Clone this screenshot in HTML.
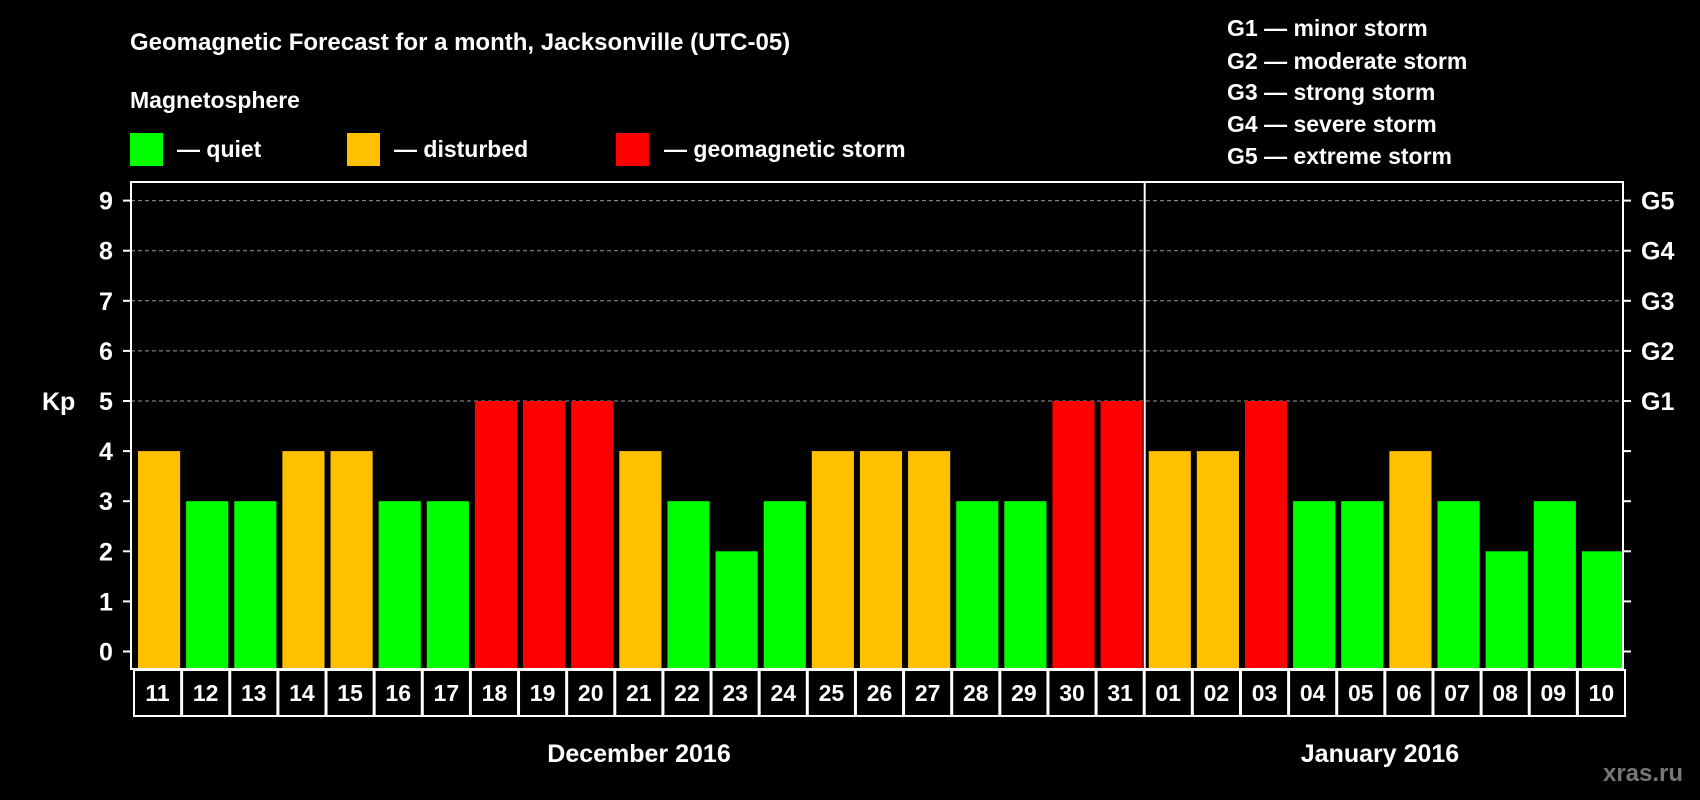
<!DOCTYPE html>
<html><head><meta charset="utf-8">
<style>
html,body{margin:0;padding:0;background:#000;}
svg{display:block;font-family:"Liberation Sans",Arial,sans-serif;font-weight:bold;}
</style></head>
<body>
<svg id="chart" width="1700" height="800" viewBox="0 0 1700 800">
<rect width="1700" height="800" fill="#000"/>
<text x="130" y="50" fill="#fff" font-size="24">Geomagnetic Forecast for a month, Jacksonville (UTC-05)</text>
<text x="130" y="108" fill="#fff" font-size="23">Magnetosphere</text>
<g>
<rect x="130" y="133" width="33" height="33" fill="#00ff00"/>
<text x="177" y="157" fill="#fff" font-size="23">— quiet</text></g>
<g>
<rect x="347" y="133" width="33" height="33" fill="#ffc000"/>
<text x="394" y="157" fill="#fff" font-size="23">— disturbed</text></g>
<g>
<rect x="616" y="133" width="33" height="33" fill="#ff0000"/>
<text x="664" y="157" fill="#fff" font-size="23">— geomagnetic storm</text></g>
<g fill="#fff" font-size="23">
<text x="1227" y="36">G1 — minor storm</text>
<text x="1227" y="69">G2 — moderate storm</text>
<text x="1227" y="100">G3 — strong storm</text>
<text x="1227" y="132">G4 — severe storm</text>
<text x="1227" y="164">G5 — extreme storm</text>
</g>
<text x="42" y="410" fill="#fff" font-size="25">Kp</text>
<text x="639" y="762" fill="#fff" font-size="25" text-anchor="middle">December 2016</text>
<text x="1380" y="762" fill="#fff" font-size="25" text-anchor="middle">January 2016</text>
<text x="1643" y="781" fill="#777" font-size="24" text-anchor="middle">xras.ru</text>
<g id="grid"></g><g id="bars"></g><g id="axes"></g>
</svg>
<script>
const days = ["11","12","13","14","15","16","17","18","19","20","21","22","23","24","25","26","27","28","29","30","31","01","02","03","04","05","06","07","08","09","10"];
const kpValues = [4,3,3,4,4,3,3,5,5,5,4,3,2,3,4,4,4,3,3,5,5,4,4,5,3,3,4,3,2,3,2];
const yTicks = [0,1,2,3,4,5,6,7,8,9];
const gLabels = ["","","","","","G1","G2","G3","G4","G5"];
const NS="http://www.w3.org/2000/svg";
const L=131,R=1623,T=182,B=669;
const slot=(R-L)/days.length;
function y(v){return 651.5-50.1*v;}
function x(i){return L+slot*i;}
function mk(tag,attrs,parent){const e=document.createElementNS(NS,tag);for(const k in attrs)e.setAttribute(k,attrs[k]);parent.appendChild(e);return e;}
const grid=document.getElementById('grid'),bars=document.getElementById('bars'),axes=document.getElementById('axes');
yTicks.forEach((t,i)=>{
  if(t>=5){const g=mk('line',{x1:L,x2:R,y1:y(t),y2:y(t),stroke:'#999','stroke-dasharray':'4 3','stroke-width':1},grid);
    
    }
  const tl=mk('line',{x1:L-8,x2:L,y1:y(t),y2:y(t),stroke:'#fff','stroke-width':2},axes);
  
  
  const tr=mk('line',{x1:R,x2:R+8,y1:y(t),y2:y(t),stroke:'#fff','stroke-width':2},axes);
  
  
  const lab=mk('text',{x:106,y:y(t)+9,fill:'#fff','font-size':25,'text-anchor':'middle'},axes);
  lab.textContent=t;
  
  
  if(gLabels[i]){const gl=mk('text',{x:1641,y:y(t)+9,fill:'#fff','font-size':25},axes);
    gl.textContent=gLabels[i];
    
    }
});
kpValues.forEach((v,i)=>{
  const c=v>=5?'#ff0000':(v>=4?'#ffc000':'#00ff00');
  const b=mk('rect',{x:x(i)+7,y:y(v),width:slot-6,height:B-1-y(v),fill:c},bars);
  
  
  const bx=mk('rect',{x:x(i)+3,y:B+1,width:slot-1,height:46,fill:'none',stroke:'#fff','stroke-width':2},axes);
  
  
  const t=mk('text',{x:x(i)+3+(slot-1)/2,y:B+32,fill:'#fff','font-size':23,'text-anchor':'middle'},axes);
  t.textContent=days[i];
  
  
});
const fr=mk('rect',{x:L,y:T,width:R-L,height:B-T,fill:'none',stroke:'#fff','stroke-width':2},axes);


const di=days.indexOf("01");
const dv=mk('line',{x1:x(di)+3,x2:x(di)+3,y1:T,y2:B,stroke:'#fff','stroke-width':2},axes);


</script>
</body></html>
